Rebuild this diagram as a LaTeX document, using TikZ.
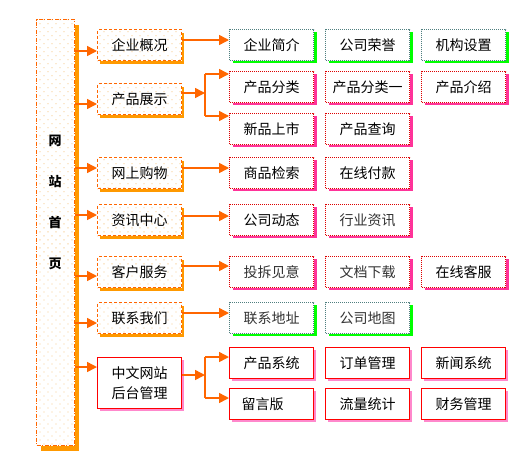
\documentclass[tikz,border=0pt]{standalone}
\usepackage{fontspec}
\setmainfont{Noto Sans CJK SC}
\usetikzlibrary{arrows.meta,shadows,patterns.meta}
\definecolor{lineor}{HTML}{FF6600}
\definecolor{shor}{HTML}{FF9900}
\definecolor{dotor}{HTML}{F0A030}
\definecolor{grnsh}{HTML}{00FF00}
\definecolor{tealbd}{HTML}{4F7F7F}
\definecolor{pinksh}{HTML}{FF3399}
\definecolor{redbd}{HTML}{DD0000}
\definecolor{chksh}{HTML}{FF88CC}
\definecolor{graytxt}{HTML}{333333}
\begin{document}
\begin{tikzpicture}[x=1pt,y=-1pt,
  txt/.style={font=\fontsize{14}{16}\selectfont},
  mainbox/.style={anchor=north west, inner sep=0pt, minimum width=38pt, minimum height=426pt,
    draw=lineor, line width=1pt, dash pattern=on 4pt off 1.5pt on 1pt off 1.5pt,
    drop shadow={shadow xshift=4pt, shadow yshift=-5pt, fill=shor, opacity=1},
    preaction={fill=white}, pattern={Dots[distance=5.66pt, angle=45, radius=0.55pt]}, pattern color=dotor},
  lvlone/.style={txt, anchor=north west, inner sep=0pt, minimum width=84pt, minimum height=31pt,
    draw=lineor, line width=1pt, dash pattern=on 3pt off 2pt,
    drop shadow={shadow xshift=2.5pt, shadow yshift=-3pt, fill=shor, opacity=1},
    preaction={fill=white}, pattern={Dots[distance=5.66pt, angle=45, radius=0.55pt]}, pattern color=dotor},
  lvltwo/.style={txt, anchor=north west, inner sep=0pt, minimum width=84pt, minimum height=31pt, line width=1pt},
  grnbox/.style={lvltwo, draw=tealbd, dash pattern=on 1pt off 1pt, fill=white,
    drop shadow={shadow xshift=3pt, shadow yshift=-2.5pt, fill=grnsh, opacity=1}},
  pinkbox/.style={lvltwo, draw=redbd, dash pattern=on 1pt off 1pt, fill=white,
    drop shadow={shadow xshift=3pt, shadow yshift=-2.5pt, fill=pinksh, opacity=1}},
  redbox/.style={lvltwo, draw=red, line width=1.2pt, fill=white,
    drop shadow={shadow xshift=2.5pt, shadow yshift=-2.5pt, fill=chksh, opacity=1}},
  ln/.style={draw=lineor, line width=1.5pt},
  arr/.style={ln, -{Triangle[length=10pt, width=10pt]}, color=lineor}
]
\useasboundingbox (0,0) rectangle (524,472);

% main column
\node[mainbox] (main) at (36,19) {};
\node[font=\fontsize{13}{41}\selectfont\bfseries, align=center] (title) at (55,202) {网\\站\\首\\页};

% level one
\node[lvlone] (b1) at (97,29) {企业概况};
\node[lvlone] (b2) at (97,83) {产品展示};
\node[lvlone] (b3) at (97,157) {网上购物};
\node[lvlone] (b4) at (97,204) {资讯中心};
\node[lvlone] (b5) at (97,256) {客户服务};
\node[lvlone] (b6) at (97,302) {联系我们};
\node[redbox, minimum height=51pt, align=center, font=\fontsize{14}{20}\selectfont] (b7) at (97,357) {中文网站\\后台管理};

% level two
\node[grnbox] (c11) at (229,29) {企业简介};
\node[grnbox] (c12) at (325,29) {公司荣誉};
\node[grnbox] (c13) at (421,29) {机构设置};

\node[pinkbox] (c21) at (229,71) {产品分类};
\node[pinkbox] (c22) at (325,71) {产品分类一};
\node[pinkbox] (c23) at (421,71) {产品介绍};

\node[pinkbox] (c31) at (229,113) {新品上市};
\node[pinkbox] (c32) at (325,113) {产品查询};

\node[pinkbox] (c41) at (229,157) {商品检索};
\node[pinkbox] (c42) at (325,157) {在线付款};

\node[pinkbox] (c51) at (229,204) {公司动态};
\node[pinkbox, text=graytxt] (c52) at (325,204) {行业资讯};

\node[pinkbox, text=graytxt] (c61) at (229,256) {投拆见意};
\node[pinkbox, text=graytxt] (c62) at (325,256) {文档下载};
\node[pinkbox] (c63) at (421,256) {在线客服};

\node[grnbox, text=graytxt] (c71) at (229,302) {联系地址};
\node[grnbox, text=graytxt] (c72) at (325,302) {公司地图};

\node[redbox] (c81) at (229,347) {产品系统};
\node[redbox] (c82) at (325,347) {订单管理};
\node[redbox] (c83) at (421,347) {新闻系统};

\node[redbox] (c91) at (229,388) {留言版\rule{18pt}{0pt}};
\node[redbox] (c92) at (325,388) {流量统计};
\node[redbox] (c93) at (421,388) {财务管理};

% main -> level one
\coordinate (m1) at (97,51);
\coordinate (m2) at (97,104);
\coordinate (m3) at (97,168);
\coordinate (m4) at (97,215);
\coordinate (m5) at (97,276);
\coordinate (m6) at (97,323);
\coordinate (m7) at (97,367);
\foreach \i in {1,...,7}{
  \draw[arr] (main.east |- m\i) -- (b\i.west |- m\i);
}

% level one -> level two
\coordinate (k1) at (229,40);
\coordinate (k3) at (229,168);
\coordinate (k4) at (229,216);
\coordinate (k5) at (229,266);
\coordinate (k6) at (229,313);
\draw[arr] (b1.east |- k1) -- (c11.west |- k1);
\draw[arr] (b3.east |- k3) -- (c41.west |- k3);
\draw[arr] (b4.east |- k4) -- (c51.west |- k4);
\draw[arr] (b5.east |- k5) -- (c61.west |- k5);
\draw[arr] (b6.east |- k6) -- (c71.west |- k6);

% branch for 产品展示
\coordinate (j2) at (205,93);
\coordinate (j2a) at (205,74);
\coordinate (j2b) at (205,116);
\draw[arr] (b2.east |- j2) -- (j2);
\draw[ln] (j2a) -- (j2b);
\draw[arr] (j2a) -- (c21.west |- j2a);
\draw[arr] (j2b) -- (c31.west |- j2b);

% branch for 后台管理
\coordinate (j7) at (205,375);
\coordinate (j7a) at (205,357);
\coordinate (j7b) at (205,398);
\draw[arr] (b7.east |- j7) -- (j7);
\draw[ln] (j7a) -- (j7b);
\draw[arr] (j7a) -- (c81.west |- j7a);
\draw[arr] (j7b) -- (c91.west |- j7b);
\end{tikzpicture}
\end{document}
